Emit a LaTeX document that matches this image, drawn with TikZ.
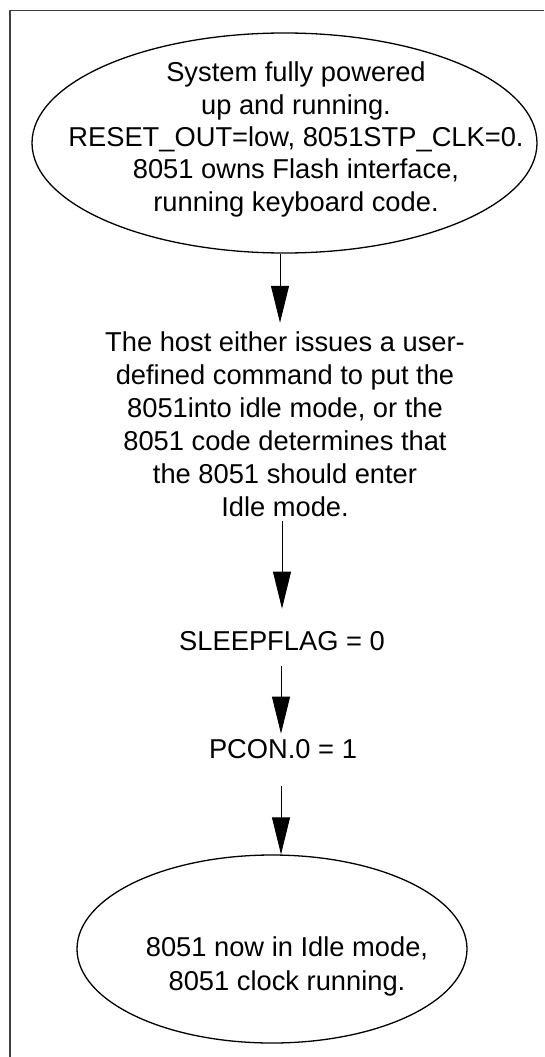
\documentclass[tikz,border=0pt]{standalone}
\usepackage{fontspec}
\setmainfont{Liberation Sans}
\usepackage{tikz}
\usetikzlibrary{arrows.meta, shapes.geometric}

\begin{document}
\begin{tikzpicture}[
    x=1pt, y=-1pt,
    every node/.style={font=\fontsize{27.3pt}{32.3pt}\selectfont, inner sep=0pt},
    state/.style={ellipse, draw, line width=1.3pt},
    txt/.style={align=center},
    flow/.style={-{Triangle[length=37pt, width=18pt]}, line width=0.9pt},
    frame/.style={draw=black!75, line width=1.6pt}
]
\useasboundingbox (0,0) rectangle (544,1057);
% page frame, left and top edge only
\draw[frame] (10,1057) -- (10,10.5) -- (544,10.5);
% start state
\node[state, minimum width=505pt, minimum height=220pt] (running) at (284.5,143) {};
\node[txt] (runningtext) at (296,139.5) {System fully powered\\
  up and running.\\
  RESET\_OUT=low, 8051STP\_CLK=0.\\
  8051 owns Flash interface,\\
  running keyboard code.};
% steps
\node[txt, font=\fontsize{27.3pt}{33pt}\selectfont] (host) at (285,424.5) {The host either issues a user-\\
  defined command to put the\\
  8051into idle mode, or the\\
  8051 code determines that\\
  the 8051 should enter\\
  Idle mode.};
\node (sleep) at (282,641) {SLEEPFLAG = 0};
\node (pcon) at (283,749) {PCON.0 = 1};
% end state
\node[state, minimum width=390pt, minimum height=188pt] (idle) at (272,949) {};
\node[txt, font=\fontsize{27.3pt}{34pt}\selectfont] (idletext) at (287,966) {8051 now in Idle mode,\\
  8051 clock running.};
% connectors
\draw[flow, shorten >=9pt] (running.south -| 280,0) -- (host.north -| 280,0);
\draw[flow, shorten <=4pt, shorten >=22.5pt] (host.south -| 282,0) -- (sleep.north -| 282,0);
\draw[flow, shorten <=15pt, shorten >=5.5pt] (sleep.south -| 281,0) -- (pcon.north -| 281,0);
\draw[flow, shorten <=27pt] (pcon.south -| 281,0) -- (idle.north -| 281,0);
\end{tikzpicture}
\end{document}
